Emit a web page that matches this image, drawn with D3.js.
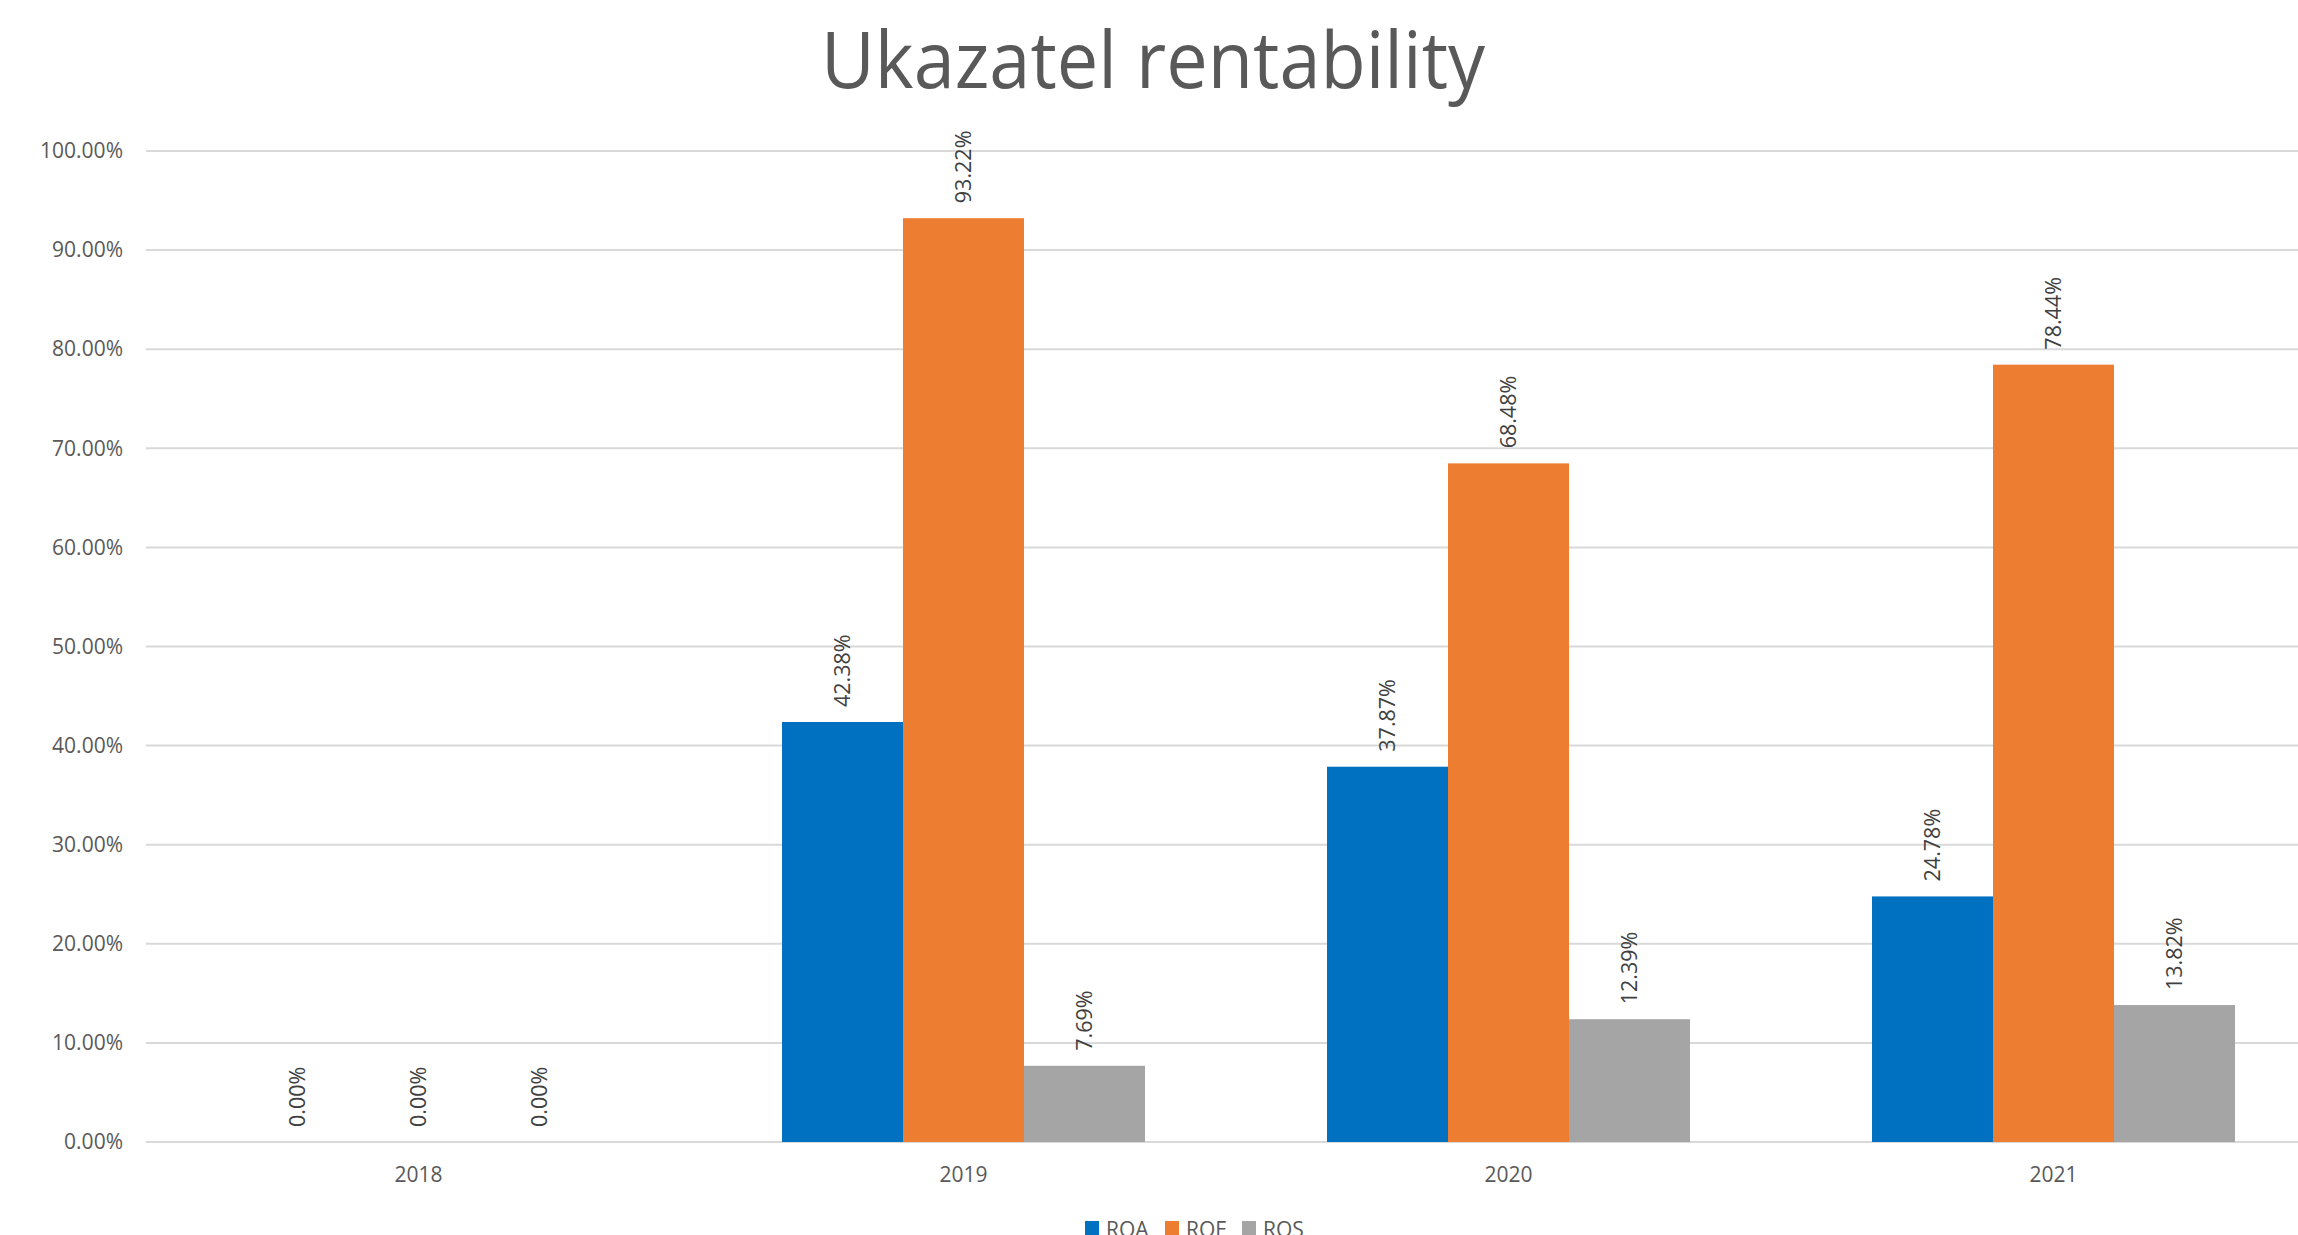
<!DOCTYPE html>
<html>
<head>
<meta charset="utf-8">
<script src="https://cdn.jsdelivr.net/npm/d3@7"></script>
<style>
  html, body { margin: 0; padding: 0; background: #fff; overflow: hidden; }
  svg { display: block; font-family: "Open Sans", sans-serif; }
</style>
</head>
<body>
<div id="chart"></div>
<script>
const years = [`2018`, `2019`, `2020`, `2021`];
const seriesNames = [`ROA`, `ROE`, `ROS`];
const roa = [0, 0.4238, 0.3787, 0.2478];
const roe = [0, 0.9322, 0.6848, 0.7844];
const ros = [0, 0.0769, 0.1239, 0.1382];
const yTicks = [0, 0.1, 0.2, 0.3, 0.4, 0.5, 0.6, 0.7, 0.8, 0.9, 1.0];
const colors = [`#0070C0`, `#ED7D31`, `#A5A5A5`];
const title = `Ukazatel rentability`;

const width = 2298;
const height = 1235;
const margin = {top: 151, right: -28, bottom: 93, left: 146};
const innerWidth = width - margin.left - margin.right;
const innerHeight = height - margin.top - margin.bottom;

const rows = years.map((y, i) => ({year: y, values: [roa[i], roe[i], ros[i]]}));

const svg = d3.select(`#chart`)
  .append(`svg`)
    .attr(`width`, width)
    .attr(`height`, height);

// title
const titleText = svg.append(`text`)
  .attr(`x`, 1153)
  .attr(`y`, 88)
  .attr(`text-anchor`, `middle`)
  .attr(`fill`, `#595959`)
  .attr(`font-size`, 78)
  .text(title);
if (titleText.node().getComputedTextLength() > 664) {
  titleText.attr(`textLength`, 664).attr(`lengthAdjust`, `spacingAndGlyphs`);
}

const g = svg.append(`g`)
  .attr(`transform`, `translate(${margin.left},${margin.top})`);

const x0 = d3.scaleBand()
  .domain(years)
  .range([0, innerWidth])
  .paddingInner(0.334)
  .paddingOuter(0.167);

const x1 = d3.scaleBand()
  .domain(seriesNames)
  .range([0, x0.bandwidth()]);

const y = d3.scaleLinear()
  .domain([0, 1])
  .range([innerHeight, 0]);

// gridlines, clipped to the page width
const visibleWidth = width - margin.left;
g.append(`g`)
  .attr(`class`, `grid`)
  .selectAll(`line`)
  .data(yTicks)
  .enter().append(`line`)
    .attr(`x1`, 0)
    .attr(`x2`, visibleWidth)
    .attr(`y1`, d => y(d))
    .attr(`y2`, d => y(d))
    .attr(`stroke`, `#D9D9D9`)
    .attr(`stroke-width`, 2);

// y labels
const yAxis = g.append(`g`)
  .attr(`class`, `y-axis`)
  .call(d3.axisLeft(y)
    .tickValues(yTicks)
    .tickSize(0)
    .tickPadding(23)
    .tickFormat(d3.format(`.2%`)));
yAxis.select(`.domain`).remove();
yAxis.selectAll(`.tick text`)
  .attr(`fill`, `#595959`)
  .attr(`font-size`, 21)
  .attr(`font-family`, `"Open Sans", sans-serif`);

// bars
const groups = g.selectAll(`.year`)
  .data(rows)
  .enter().append(`g`)
    .attr(`class`, `year`)
    .attr(`transform`, d => `translate(${x0(d.year)},0)`);

groups.selectAll(`rect`)
  .data(d => d.values.map((v, i) => ({key: seriesNames[i], value: v, idx: i})))
  .enter().append(`rect`)
    .attr(`x`, d => x1(d.key))
    .attr(`y`, d => y(d.value))
    .attr(`width`, x1.bandwidth())
    .attr(`height`, d => innerHeight - y(d.value))
    .attr(`fill`, d => colors[d.idx]);

// data labels
groups.selectAll(`.lbl`)
  .data(d => d.values.map((v, i) => ({key: seriesNames[i], value: v})))
  .enter().append(`text`)
    .attr(`class`, `lbl`)
    .attr(`transform`, d => `translate(${x1(d.key) + x1.bandwidth() / 2},${y(d.value) - 15}) rotate(-90)`)
    .attr(`dy`, `0.35em`)
    .attr(`text-anchor`, `start`)
    .attr(`fill`, `#404040`)
    .attr(`font-size`, 21.5)
    .text(d => d3.format(`.2%`)(d.value));

// x axis
const xAxis = g.append(`g`)
  .attr(`class`, `x-axis`)
  .attr(`transform`, `translate(0,${innerHeight})`)
  .call(d3.axisBottom(x0).tickSize(0).tickPadding(25));
xAxis.select(`.domain`).remove();
xAxis.selectAll(`.tick text`)
  .attr(`fill`, `#595959`)
  .attr(`font-size`, 21)
  .attr(`font-family`, `"Open Sans", sans-serif`);

// legend (cut by the bottom edge, as in the source picture)
const legendX = [1085, 1165, 1242];
const legend = svg.append(`g`)
  .selectAll(`g`)
  .data(seriesNames)
  .enter().append(`g`)
    .attr(`transform`, (d, i) => `translate(${legendX[i]},1221)`);
legend.append(`rect`)
  .attr(`width`, 14)
  .attr(`height`, 14)
  .attr(`fill`, (d, i) => colors[i]);
legend.append(`text`)
  .attr(`x`, 21)
  .attr(`y`, 16)
  .attr(`fill`, `#595959`)
  .attr(`font-size`, 21)
  .text(d => d);
</script>
</body>
</html>
